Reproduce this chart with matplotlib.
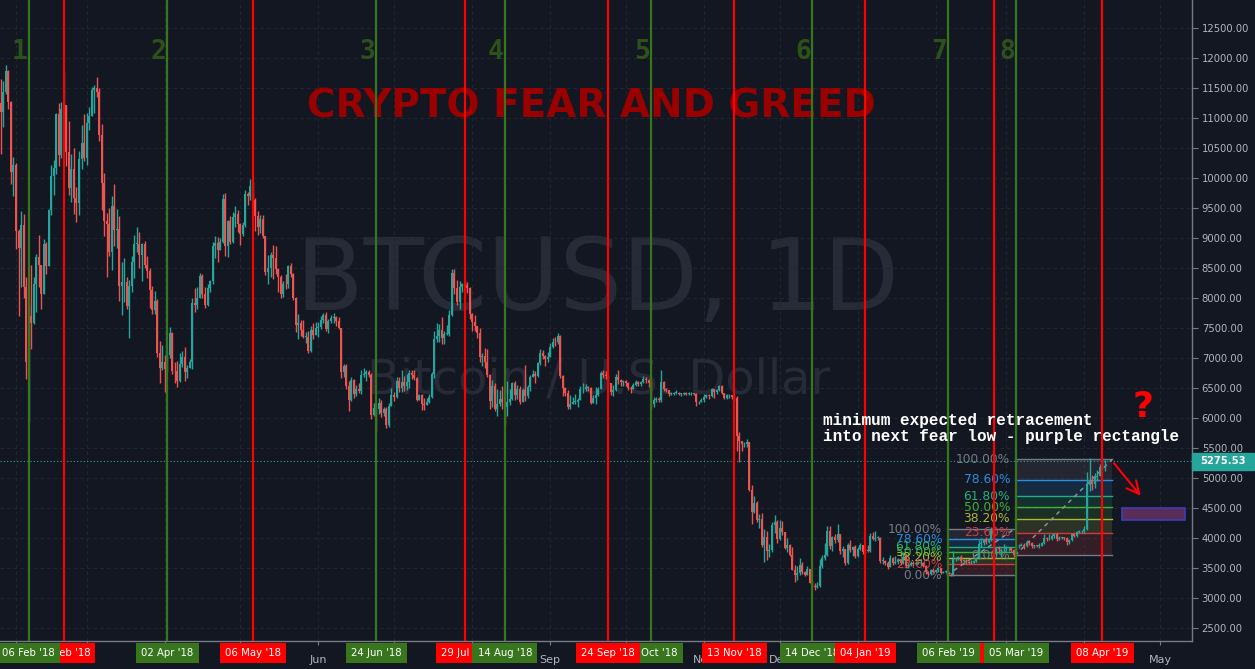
import numpy as np
import pandas as pd
import matplotlib
matplotlib.use("Agg")
import matplotlib.pyplot as plt
import matplotlib.dates as mdates
import matplotlib.transforms as mtransforms
from matplotlib.patches import Rectangle

# BTCUSD 1D, 2018-01-26 .. 2019-04-09
start_day = "2018-01-26"
first_open = 11250
closes = [
    11100, 11440, 11780, 11270, 10100, 10220,  # jan 18
    9110, 8830, 9220, 8190, 6940, 7700, 7580, 8240, 8680, 8550, 8070, 8900, 8540, 9470,
    10030, 10170, 11060, 10380, 11150, 11220, 10440, 9830, 10150, 9660, 9590, 10310, 10590, 10330,  # feb
    10920, 11040, 11460, 11500, 11440, 10720, 9910, 9280, 9230, 8770, 9530, 9140, 9150, 8200, 8260, 8270,
    7870, 8200, 8600, 8900, 8900, 8720, 8900, 8550, 8450, 8140, 7800, 7950, 7090, 6840, 6930,  # mar
    6820, 7050, 7420, 6790, 6780, 6620, 6900, 7020, 6770, 6830, 6940, 7920, 7890, 8000, 8360,
    8060, 7890, 8170, 8280, 8860, 8920, 8800, 8940, 9650, 8870, 9280, 8940, 9350, 9400, 9240,  # apr
    9070, 9220, 9740, 9700, 9860, 9630, 9370, 9190, 9320, 9030, 8430, 8500, 8720, 8670, 8480, 8350,
    8060, 8240, 8230, 8530, 8400, 8000, 7550, 7580, 7470, 7350, 7350, 7110, 7460, 7390, 7500,  # may
    7520, 7640, 7710, 7490, 7610, 7660, 7680, 7620, 7500, 6760, 6870, 6540, 6300, 6630, 6400,
    6490, 6450, 6710, 6740, 6760, 6720, 6050, 6160, 6150, 6250, 6090, 6150, 5880, 6200, 6390,  # jun
    6350, 6610, 6500, 6600, 6530, 6600, 6750, 6710, 6660, 6300, 6390, 6240, 6220, 6270, 6350, 6740,
    7320, 7370, 7470, 7330, 7400, 7400, 7720, 8420, 8170, 7930, 8180, 8230, 8210, 8170, 7730,  # jul
    7600, 7540, 7420, 7010, 7030, 6940, 6720, 6280, 6540, 6150, 6240, 6310, 6260, 6190, 6270, 6310,
    6580, 6390, 6490, 6260, 6470, 6360, 6520, 6690, 6740, 6700, 6910, 7080, 7030, 6980, 7020,  # aug
    7190, 7270, 7260, 7360, 6700, 6500, 6410, 6190, 6240, 6270, 6270, 6300, 6480, 6490, 6520,
    6500, 6250, 6340, 6380, 6480, 6750, 6720, 6700, 6580, 6430, 6460, 6680, 6630, 6600, 6620,  # sep
    6590, 6500, 6490, 6550, 6600, 6560, 6600, 6650, 6630, 6590, 6240, 6300, 6310, 6300, 6600, 6480,
    6460, 6400, 6400, 6420, 6420, 6400, 6400, 6420, 6400, 6410, 6410, 6400, 6260, 6270, 6300,  # oct
    6350, 6380, 6360, 6480, 6430, 6460, 6530, 6410, 6340, 6380, 6380, 6350, 6330, 5700, 5620,
    5560, 5560, 5600, 4800, 4430, 4580, 4300, 4320, 3890, 4020, 3780, 3800, 4220, 4270, 3980,  # nov
    4170, 4100, 3830, 3890, 3720, 3470, 3380, 3410, 3550, 3440, 3390, 3480, 3250, 3200, 3180, 3200,
    3530, 3670, 3720, 4120, 3860, 4010, 3960, 4070, 3780, 3820, 3580, 3880, 3800, 3850, 3700,  # dec
    3820, 3880, 3770, 3800, 3790, 4040, 3990, 4000, 4000, 3620, 3620, 3590, 3510, 3660, 3580, 3600,
    3630, 3580, 3690, 3530, 3550, 3580, 3560, 3590, 3580, 3580, 3540, 3430, 3400, 3460, 3440,  # jan 19
    3470, 3500, 3420, 3430, 3450, 3390, 3380, 3650, 3660, 3690, 3620, 3620, 3600, 3580,
    3590, 3620, 3660, 3900, 3920, 3980, 3930, 3980, 4130, 3740, 3830, 3810, 3810, 3820,  # feb
    3830, 3830, 3800, 3710, 3860, 3870, 3880, 3860, 3940, 3920, 3860, 3880, 3870, 3870, 3910, 4000,
    3980, 3980, 4030, 4060, 3990, 4000, 4010, 4000, 3930, 3960, 4060, 4040, 4100, 4110, 4110,  # mar
    4150, 4880, 4970, 4900, 5010, 5040, 5190, 5260, 5275.53,  # apr
]
highs = [
    11650, 11620, 11880, 11800, 11290, 10350,
    10250, 9150, 9450, 9400, 8350, 7880, 8550, 8350, 8740, 9050, 8550, 8980, 8930, 9490,
    10220, 10300, 11080, 11250, 11270, 11790, 11220, 10950, 10400, 10500, 9850, 10450, 10880, 11070,
    11080, 11180, 11520, 11550, 11690, 11500, 10900, 10080, 9420, 9500, 9700, 9900, 9480, 9370, 8600, 8660,
    8350, 8300, 8700, 9050, 9180, 9100, 8920, 8950, 8700, 8500, 8200, 8120, 7980, 7280, 7220,
    7050, 7110, 7510, 7440, 6930, 6950, 7080, 7110, 7180, 6890, 6990, 8000, 8170, 8190, 8410,
    8400, 8180, 8240, 8300, 8930, 9030, 9020, 9000, 9740, 9750, 9300, 9370, 9440, 9540, 9470,
    9250, 9260, 9800, 9770, 9990, 9940, 9660, 9450, 9380, 9390, 9030, 8720, 8770, 8880, 8860, 8500,
    8390, 8280, 8400, 8550, 8580, 8420, 8020, 7730, 7640, 7630, 7430, 7450, 7540, 7580, 7600,
    7600, 7700, 7750, 7760, 7650, 7710, 7750, 7700, 7680, 7500, 6900, 6900, 6620, 6680, 6650,
    6550, 6580, 6800, 6830, 6800, 6800, 6750, 6250, 6250, 6330, 6300, 6180, 6180, 6250, 6500,
    6440, 6680, 6680, 6800, 6700, 6740, 6800, 6800, 6800, 6680, 6400, 6400, 6340, 6330, 6400, 6760,
    7450, 7580, 7570, 7690, 7450, 7550, 7800, 8490, 8480, 8300, 8280, 8250, 8280, 8270, 8180,
    7750, 7720, 7540, 7500, 7080, 7160, 7150, 6730, 6630, 6580, 6480, 6470, 6530, 6270, 6620, 6480,
    6600, 6610, 6550, 6530, 6500, 6880, 6550, 6720, 6800, 6790, 6940, 7150, 7130, 7050, 7100,
    7250, 7330, 7350, 7410, 7380, 6710, 6520, 6470, 6380, 6350, 6400, 6330, 6530, 6580, 6560,
    6540, 6520, 6390, 6520, 6520, 6780, 6800, 6780, 6720, 6590, 6550, 6730, 6800, 6650, 6640,
    6640, 6600, 6530, 6580, 6640, 6620, 6620, 6700, 6680, 6650, 6600, 6350, 6350, 6350, 6800, 6620,
    6500, 6470, 6440, 6440, 6460, 6430, 6420, 6440, 6430, 6440, 6430, 6420, 6410, 6290, 6330,
    6400, 6400, 6400, 6500, 6480, 6480, 6550, 6550, 6420, 6400, 6400, 6390, 6400, 6360, 5760,
    5620, 5600, 5650, 5600, 4880, 4700, 4620, 4400, 4420, 4150, 4110, 3900, 4270, 4390, 4300,
    4300, 4280, 4100, 4000, 3900, 3850, 3550, 3530, 3660, 3600, 3450, 3530, 3480, 3280, 3250, 3260,
    3650, 3720, 3910, 4200, 4200, 4030, 4060, 4240, 4070, 3860, 3820, 3920, 3960, 3860, 3890,
    3850, 3920, 3880, 3830, 3880, 4090, 4100, 4110, 4040, 4020, 3680, 3630, 3610, 3710, 3680, 3700,
    3660, 3640, 3770, 3730, 3580, 3610, 3620, 3610, 3610, 3650, 3600, 3550, 3440, 3480, 3500,
    3490, 3520, 3500, 3450, 3470, 3460, 3410, 3780, 3680, 3700, 3710, 3650, 3650, 3610,
    3640, 3640, 3690, 3960, 4000, 3990, 4010, 4000, 4190, 4210, 3850, 3860, 3830, 3900,
    3870, 3850, 3830, 3820, 3880, 3900, 3910, 3920, 3960, 3950, 3930, 3890, 3890, 3920, 3930, 4060,
    4010, 4060, 4060, 4080, 4090, 4030, 4020, 4020, 4010, 3980, 4070, 4070, 4120, 4130, 4130,
    4200, 5100, 5330, 5050, 5080, 5140, 5230, 5340, 5300,
]
lows = [
    10400, 10850, 11400, 11150, 9900, 9700,
    8820, 7700, 8180, 8000, 6650, 5950, 7150, 7570, 7760, 8180, 7820, 8080, 8400, 8550,
    9380, 9720, 10060, 10200, 10330, 11020, 10200, 9710, 9600, 9400, 9260, 9390, 10150, 10280,
    10220, 10800, 11030, 11080, 11350, 10620, 9460, 9030, 8350, 8700, 8460, 8870, 8840, 7950, 7710, 7940,
    7810, 7330, 8100, 8330, 8760, 8500, 8280, 8500, 8330, 7830, 7730, 7740, 7020, 6590, 6800,
    6440, 6770, 7000, 6730, 6580, 6520, 6600, 6850, 6620, 6660, 6830, 6810, 7760, 7820, 8000,
    8000, 7840, 7870, 8100, 8230, 8670, 8600, 8800, 8920, 8700, 8690, 8900, 8920, 9190, 9100,
    8880, 9030, 9180, 9550, 9630, 9470, 9120, 9050, 9090, 9000, 8380, 8240, 8350, 8310, 8400, 8100,
    8000, 8020, 8150, 8170, 8350, 7970, 7430, 7310, 7360, 7340, 7250, 7080, 7100, 7320, 7380,
    7350, 7480, 7580, 7450, 7410, 7580, 7590, 7540, 7480, 6660, 6680, 6480, 6120, 6280, 6340,
    6370, 6420, 6400, 6680, 6620, 6680, 5980, 6030, 5780, 6060, 6020, 6040, 5840, 5850, 6200,
    6280, 6330, 6440, 6430, 6450, 6460, 6500, 6650, 6630, 6290, 6300, 6130, 6130, 6220, 6250, 6330,
    6660, 7270, 7270, 7240, 7230, 7380, 7370, 7700, 8060, 7880, 7810, 8100, 8100, 8080, 7650,
    7450, 7450, 7330, 6930, 6870, 6840, 6680, 6150, 6190, 6120, 6030, 6200, 6150, 5880, 6040, 6220,
    6300, 6300, 6320, 6240, 6260, 6290, 6340, 6450, 6700, 6590, 6690, 6880, 6980, 6860, 6930,
    7020, 7170, 7200, 7230, 6670, 6360, 6370, 6150, 6150, 6230, 6230, 6190, 6300, 6420, 6450,
    6450, 6240, 6250, 6240, 6370, 6480, 6670, 6650, 6560, 6390, 6370, 6450, 6560, 6530, 6540,
    6540, 6470, 6420, 6480, 6540, 6530, 6540, 6590, 6590, 6520, 6150, 6180, 6270, 6260, 6270, 6450,
    6430, 6370, 6380, 6390, 6400, 6380, 6370, 6380, 6380, 6390, 6390, 6380, 6200, 6240, 6260,
    6270, 6330, 6320, 6350, 6340, 6400, 6450, 6400, 6320, 6320, 6330, 6310, 6280, 5450, 5270,
    5450, 5520, 5520, 4780, 4240, 4410, 4260, 4170, 3850, 3600, 3640, 3690, 3770, 4080, 3910,
    3970, 4050, 3810, 3770, 3700, 3460, 3270, 3300, 3390, 3400, 3360, 3380, 3250, 3190, 3130, 3170,
    3190, 3500, 3640, 3700, 3810, 3790, 3920, 3930, 3730, 3680, 3550, 3560, 3770, 3700, 3660,
    3680, 3800, 3740, 3750, 3760, 3770, 3970, 3950, 3960, 3580, 3560, 3550, 3490, 3510, 3550, 3560,
    3570, 3550, 3570, 3500, 3500, 3530, 3540, 3550, 3560, 3550, 3520, 3400, 3380, 3390, 3420,
    3430, 3440, 3400, 3410, 3420, 3370, 3360, 3370, 3620, 3630, 3590, 3560, 3570, 3560,
    3570, 3580, 3600, 3650, 3850, 3880, 3900, 3920, 3950, 3730, 3720, 3760, 3680, 3760,
    3790, 3790, 3760, 3680, 3700, 3840, 3860, 3820, 3850, 3880, 3840, 3830, 3850, 3830, 3860, 3900,
    3950, 3960, 3970, 4000, 3950, 3970, 3980, 3970, 3890, 3900, 3950, 4010, 4020, 4080, 4090,
    4090, 4140, 4780, 4800, 4830, 4950, 5040, 5150, 5120,
]
last_price = 5275.53

# fear lows (green) and greed highs (red)
fear_dates = ["2018-02-06", "2018-04-02", "2018-06-24", "2018-08-14",
              "2018-10-11", "2018-12-14", "2019-02-06", "2019-03-05"]
greed_dates = ["2018-02-20", "2018-05-06", "2018-07-29", "2018-09-24",
               "2018-11-13", "2019-01-04", "2019-02-24", "2019-04-08"]
fear_numbers = ["1", "2", "3", "4", "5", "6", "7", "8"]

# fib retracements: (start, end, low, high)
fib_small = ("2019-02-05 10:00", "2019-03-04 00:00", 3380, 4145)
fib_big = ("2019-03-04 10:00", "2019-04-12 00:00", 3710, 5310)
fib_levels = [1.0, 0.786, 0.618, 0.5, 0.382, 0.236, 0.0]
fib_labels = ["100.00%", "78.60%", "61.80%", "50.00%", "38.20%", "23.60%", "0.00%"]
fib_colors = ["#787b86", "#2a8fe0", "#22b07e", "#45b035", "#a8b838", "#d33b3b", "#787b86"]

# purple target box and arrow
target_box = ("2019-04-16", "2019-05-11", 4300, 4500)
arrow_from = ("2019-04-12", 5283)
arrow_to = ("2019-04-24", 4667)

# month grid; only the labels not hidden by the date tags are shown
month_ticks = pd.date_range("2018-02-01", "2019-05-01", freq="MS")
month_labels = ["", "", "", "", "Jun", "", "", "Sep", "",
                "Nov", "Dec", "", "", "", "", "May"]

BG = "#131722"
UP = "#26a69a"
DOWN = "#ef5350"
GREEN_LINE = "#38761d"
RED_LINE = "#ff0000"
TXT = "#b2b5be"


def dnum(s):
    return mdates.date2num(pd.Timestamp(s).to_pydatetime())


n = min(len(closes), len(highs), len(lows))
closes = np.array(closes[:n], dtype=float)
highs = np.array(highs[:n], dtype=float)
lows = np.array(lows[:n], dtype=float)
opens = np.r_[first_open, closes[:-1]]
highs = np.maximum(highs, np.maximum(opens, closes))
lows = np.minimum(lows, np.minimum(opens, closes))
x = mdates.date2num(pd.date_range(start_day, periods=n, freq="D").to_pydatetime())

fig = plt.figure(figsize=(12.55, 6.69), dpi=100, facecolor=BG)
ax = fig.add_axes([0, 28 / 669, 1192 / 1255, 641 / 669])
ax.set_facecolor(BG)

# 2.52 px per day, 0.06 px per dollar
feb6 = dnum("2018-02-06")
ax.set_xlim(feb6 - 28.6 / 2.52, feb6 + (1192 - 28.6) / 2.52)
ax.set_ylim(12500 - (641 - 28) / 0.06, 12500 + 28 / 0.06)

# watermark + title
ax.text(0.501, 1 - 310 / 641, "BTCUSD, 1D", transform=ax.transAxes, ha="center",
        va="baseline", fontsize=71, color="#272b37", zorder=0.2)
ax.text(0.502, 1 - 393 / 641, "Bitcoin / U.S. Dollar", transform=ax.transAxes,
        ha="center", va="baseline", fontsize=34.5, color="#272b37", zorder=0.2)
ax.text(0.496, 1 - 107 / 641, "CRYPTO FEAR AND GREED", transform=ax.transAxes,
        ha="center", va="center", fontsize=28, fontweight="bold", color="#990000", zorder=1)

# grid
ax.set_axisbelow(True)
ax.grid(True, color="#222633", lw=0.8, ls=(0, (3, 3)))

# fib retracements
for start, end, lo, hi in (fib_small, fib_big):
    x0, x1 = dnum(start), dnum(end)
    prices = [lo + lv * (hi - lo) for lv in fib_levels]
    for i in range(len(prices) - 1):
        ax.fill_between([x0, x1], prices[i + 1], prices[i], color=fib_colors[i],
                        alpha=0.17, lw=0, zorder=1)
    for p, lab, col in zip(prices, fib_labels, fib_colors):
        ax.plot([x0, x1], [p, p], color=col, lw=1, zorder=1.2)
        ax.annotate(lab, xy=(x0, p), xytext=(-3.5, 0), textcoords="offset points",
                    ha="right", va="center", fontsize=8.8, color=col, zorder=1.3)
    ax.plot([x0, x1], [lo, hi], color="#9598a1", lw=1, ls=(0, (3, 3)), zorder=1.2)

# candles
up = closes >= opens
col = np.where(up, UP, DOWN)
body_lo = np.minimum(opens, closes)
body_h = np.maximum(np.abs(closes - opens), 10)
ax.vlines(x, lows, highs, colors=col, lw=1.0, zorder=2)
ax.bar(x, body_h, bottom=body_lo, width=0.8, color=col, lw=0, zorder=2.1)

# current price line
ax.axhline(last_price, color=UP, lw=0.8, ls=(0, (1, 2)), zorder=2.2)

# fear / greed verticals
for d in fear_dates:
    ax.axvline(dnum(d), color=GREEN_LINE, lw=1.6, zorder=3)
for d in greed_dates:
    ax.axvline(dnum(d), color=RED_LINE, lw=1.6, zorder=3)
for d, num in zip(fear_dates, fear_numbers):
    ax.text(dnum(d) - 3.6, 1 - 52 / 641, num, transform=mtransforms.blended_transform_factory(
        ax.transData, ax.transAxes), ha="center", va="center", fontsize=19,
        fontweight="bold", family="DejaVu Sans Mono", color="#2d5219", zorder=3.1)

# purple target + arrow + notes
bx0, bx1, blo, bhi = target_box
ax.add_patch(Rectangle((dnum(bx0), blo), dnum(bx1) - dnum(bx0), bhi - blo,
                       facecolor="#5a2d58", edgecolor="#3b3fb5", lw=1.2, zorder=3))
ax.annotate("", xy=(dnum(arrow_to[0]), arrow_to[1]),
            xytext=(dnum(arrow_from[0]), arrow_from[1]),
            arrowprops=dict(arrowstyle="->,head_length=0.9,head_width=0.45",
                            color=RED_LINE, lw=1.5), zorder=3)
ax.text(823 / 1192, 1 - 421 / 641, "minimum expected retracement", transform=ax.transAxes,
        ha="left", va="center", fontsize=11.5, fontweight="bold", family="Liberation Mono",
        color="white", zorder=4)
ax.text(823 / 1192, 1 - 436 / 641, "into next fear low - purple rectangle",
        transform=ax.transAxes, ha="left", va="center", fontsize=11.5, fontweight="bold",
        family="Liberation Mono", color="white", zorder=4)
ax.text(1143 / 1192, 1 - 407 / 641, "?", transform=ax.transAxes, ha="center", va="center",
        fontsize=26, fontweight="bold", color=RED_LINE, zorder=4)

# axes styling
for s in ("top", "left"):
    ax.spines[s].set_visible(False)
for s in ("right", "bottom"):
    ax.spines[s].set_color("#787b86")
    ax.spines[s].set_linewidth(1)
ax.yaxis.tick_right()
ax.set_yticks(np.arange(2500, 13000, 500))
ax.yaxis.set_major_formatter(matplotlib.ticker.FuncFormatter(lambda v, p: f"{v:.2f}"))
ax.tick_params(axis="y", colors=TXT, labelsize=7.2, length=4, pad=3)
ax.tick_params(axis="y", color="#787b86")
ax.set_xticks(mdates.date2num(month_ticks.to_pydatetime()))
ax.set_xticklabels(month_labels)
ax.tick_params(axis="x", colors=TXT, labelsize=8, length=3, pad=7)
ax.tick_params(axis="x", color="#787b86")

# price tag on the right axis
tr_y = mtransforms.blended_transform_factory(ax.transAxes, ax.transData)
ax.add_patch(Rectangle((1.0, last_price - 135), 62 / 1192, 270, transform=tr_y,
                       color=UP, clip_on=False, zorder=5))
ax.text(1.0 + 31 / 1192, last_price, f"{last_price:.2f}", transform=tr_y, ha="center",
        va="center", fontsize=7.2, fontweight="bold", color="white", zorder=6, clip_on=False)

# date tags under the axis
tr_x = mtransforms.blended_transform_factory(ax.transData, ax.transAxes)
fear_z = [6, 6, 6, 6, 4, 4, 6, 6]
for d in greed_dates:
    t = pd.Timestamp(d)
    ax.text(dnum(d), -12 / 641, t.strftime("%d %b '%y"), transform=tr_x, ha="center",
            va="center", fontsize=7.3, color="white", clip_on=False, zorder=5,
            bbox=dict(boxstyle="square,pad=0.52", fc=RED_LINE, ec="none"))
for d, z in zip(fear_dates, fear_z):
    t = pd.Timestamp(d)
    ax.text(dnum(d), -12 / 641, t.strftime("%d %b '%y"), transform=tr_x, ha="center",
            va="center", fontsize=7.3, color="white", clip_on=False, zorder=z,
            bbox=dict(boxstyle="square,pad=0.52", fc=GREEN_LINE, ec="none"))

fig.savefig("out.png", dpi=100, facecolor=BG)
